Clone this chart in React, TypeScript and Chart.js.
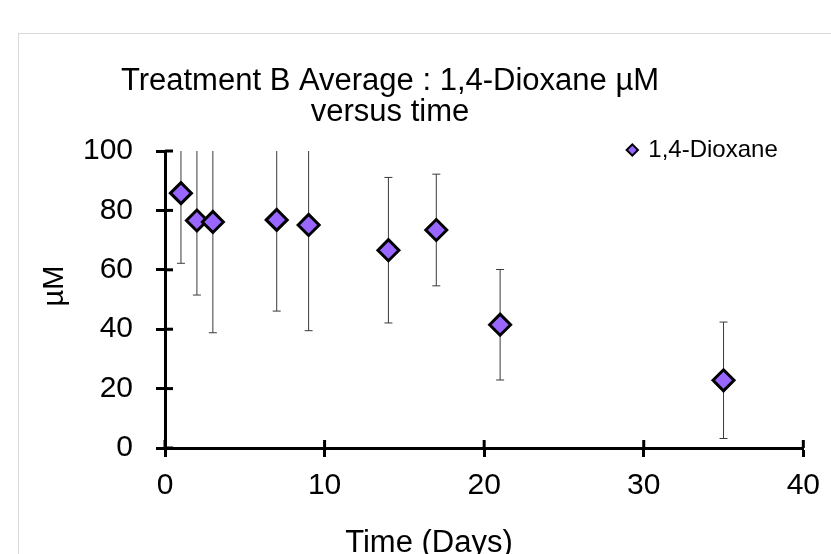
import React, { useEffect, useRef } from 'react';
import { Chart, registerables } from 'chart.js';

Chart.register(...registerables);

// ---- data ----
const days = [1, 2, 3, 7, 9, 14, 17, 21, 35];
const dioxane = [85.8, 76.6, 76.1, 76.8, 75.1, 66.6, 73.4, 41.5, 22.8];
const dioxaneErr = [23.6, 25.1, 37.3, 30.7, 35.6, 24.5, 18.8, 18.6, 19.6];
const seriesLabel = '1,4-Dioxane';
const titleLines = ['Treatment B Average : 1,4-Dioxane µM', 'versus time'];
const xTitle = 'Time (Days)';
const yTitle = 'µM';
const xRange = [0, 40];
const yRange = [0, 100];
const xStep = 10;
const yStep = 20;

const FONT = "'Liberation Sans', Arial, sans-serif";

const errorBars = {
  id: 'errorBars',
  beforeDatasetsDraw(chart: any) {
    const { ctx, chartArea, scales } = chart;
    const x = scales.x;
    const y = scales.y;
    ctx.save();
    ctx.beginPath();
    ctx.rect(chartArea.left, chartArea.top, chartArea.right - chartArea.left, chartArea.bottom - chartArea.top);
    ctx.clip();
    ctx.strokeStyle = '#3a3a3a';
    ctx.lineWidth = 1;
    days.forEach((d, i) => {
      const px = x.getPixelForValue(d);
      const hi = y.getPixelForValue(dioxane[i] + dioxaneErr[i]);
      const lo = y.getPixelForValue(dioxane[i] - dioxaneErr[i]);
      ctx.beginPath();
      ctx.moveTo(px, hi);
      ctx.lineTo(px, lo);
      ctx.moveTo(px - 4, hi);
      ctx.lineTo(px + 4, hi);
      ctx.moveTo(px - 4, lo);
      ctx.lineTo(px + 4, lo);
      ctx.stroke();
    });
    ctx.restore();
  },
};

const innerTicks = {
  id: 'innerTicks',
  beforeDatasetsDraw(chart: any) {
    const { ctx, chartArea, scales } = chart;
    const x = scales.x;
    const y = scales.y;
    ctx.save();
    ctx.strokeStyle = '#000';
    ctx.lineWidth = 3;
    x.ticks.forEach((t: any) => {
      const px = x.getPixelForValue(t.value);
      ctx.beginPath();
      ctx.moveTo(px, chartArea.bottom);
      ctx.lineTo(px, chartArea.bottom - 8);
      ctx.stroke();
    });
    y.ticks.forEach((t: any) => {
      const py = y.getPixelForValue(t.value);
      ctx.beginPath();
      ctx.moveTo(chartArea.left, py);
      ctx.lineTo(chartArea.left + 8, py);
      ctx.stroke();
    });
    ctx.restore();
  },
};

const axisTitles = {
  id: 'axisTitles',
  afterDraw(chart: any) {
    const { ctx, chartArea } = chart;
    ctx.save();
    ctx.fillStyle = '#000';
    ctx.textAlign = 'center';
    ctx.textBaseline = 'middle';
    ctx.font = `31px ${FONT}`;
    ctx.fillText(xTitle, chartArea.left + 264, chartArea.bottom + 95);
    ctx.font = `29px ${FONT}`;
    ctx.translate(chartArea.left - 110, chartArea.top + 135);
    ctx.rotate(-Math.PI / 2);
    ctx.fillText(yTitle, 0, 0);
    ctx.restore();
  },
};

const placer = {
  id: 'placer',
  afterLayout(chart: any) {
    const t = chart.titleBlock;
    if (t) {
      t.left = 0;
      t.right = 780;
      t.width = 780;
    }
    const l = chart.legend;
    if (l) {
      const ca = chart.chartArea;
      const w = l.width;
      const h = l.height;
      l.left = ca.right - 185;
      l.top = ca.top - 23;
      l.right = l.left + w;
      l.bottom = l.top + h;
    }
  },
};

export default function App() {
  const ref = useRef<HTMLCanvasElement | null>(null);

  useEffect(() => {
    if (!ref.current) return;
    const chart = new Chart(ref.current, {
      type: 'scatter',
      data: {
        datasets: [
          {
            label: seriesLabel,
            data: days.map((d, i) => ({ x: d, y: dioxane[i] })),
            pointStyle: 'rectRot',
            pointRadius: 10.5,
            pointHoverRadius: 10.5,
            pointBorderWidth: 3,
            borderWidth: 3,
            backgroundColor: '#9966FF',
            borderColor: '#000000',
          },
        ],
      },
      options: {
        responsive: false,
        animation: false,
        devicePixelRatio: 1,
        layout: { padding: { top: 0, left: 0, right: 21, bottom: 0 } },
        plugins: {
          tooltip: { enabled: false },
          title: {
            display: true,
            text: titleLines,
            color: '#000',
            font: { family: FONT, size: 31, weight: 'normal', lineHeight: 1.0 },
            padding: { top: 66, bottom: 23 },
          },
          legend: {
            display: true,
            position: 'chartArea',
            align: 'start',
            labels: {
              usePointStyle: true,
              boxWidth: 8,
              boxHeight: 8,
              padding: 10,
              color: '#000',
              font: { family: FONT, size: 24 },
              generateLabels: (c: any) =>
                (Chart as any).defaults.plugins.legend.labels
                  .generateLabels(c)
                  .map((l: any) => ({ ...l, lineWidth: 2 })),
            },
          },
        },
        scales: {
          x: {
            type: 'linear',
            min: xRange[0],
            max: xRange[1],
            ticks: {
              stepSize: xStep,
              color: '#000',
              padding: 11,
              font: { family: FONT, size: 30 },
            },
            grid: {
              display: true,
              drawOnChartArea: false,
              drawTicks: true,
              tickLength: 9,
              tickWidth: 3,
              tickColor: '#000',
            },
            border: { display: true, color: '#000', width: 3 },
            title: { display: false, text: xTitle },
            afterFit: (s: any) => {
              s.height = 106;
            },
          },
          y: {
            type: 'linear',
            min: yRange[0],
            max: yRange[1],
            ticks: {
              stepSize: yStep,
              color: '#000',
              padding: 23,
              font: { family: FONT, size: 30 },
            },
            grid: {
              display: true,
              drawOnChartArea: false,
              drawTicks: true,
              tickLength: 9,
              tickWidth: 3,
              tickColor: '#000',
            },
            border: { display: true, color: '#000', width: 3 },
            title: { display: false, text: yTitle },
            afterFit: (s: any) => {
              s.width = 165;
            },
          },
        },
      } as any,
      plugins: [errorBars, innerTicks, axisTitles, placer],
    });
    return () => chart.destroy();
  }, []);

  return (
    <div
      style={{
        position: 'fixed',
        left: 0,
        top: 0,
        width: 831,
        height: 554,
        overflow: 'hidden',
        background: '#fff',
      }}
    >
      <div
        style={{
          position: 'absolute',
          left: 18,
          top: 33,
          width: 900,
          height: 700,
          border: '1px solid #d9d9d9',
        }}
      />
      <canvas
        ref={ref}
        width={831}
        height={554}
        style={{ position: 'absolute', left: 0, top: 0, display: 'block' }}
      />
    </div>
  );
}
